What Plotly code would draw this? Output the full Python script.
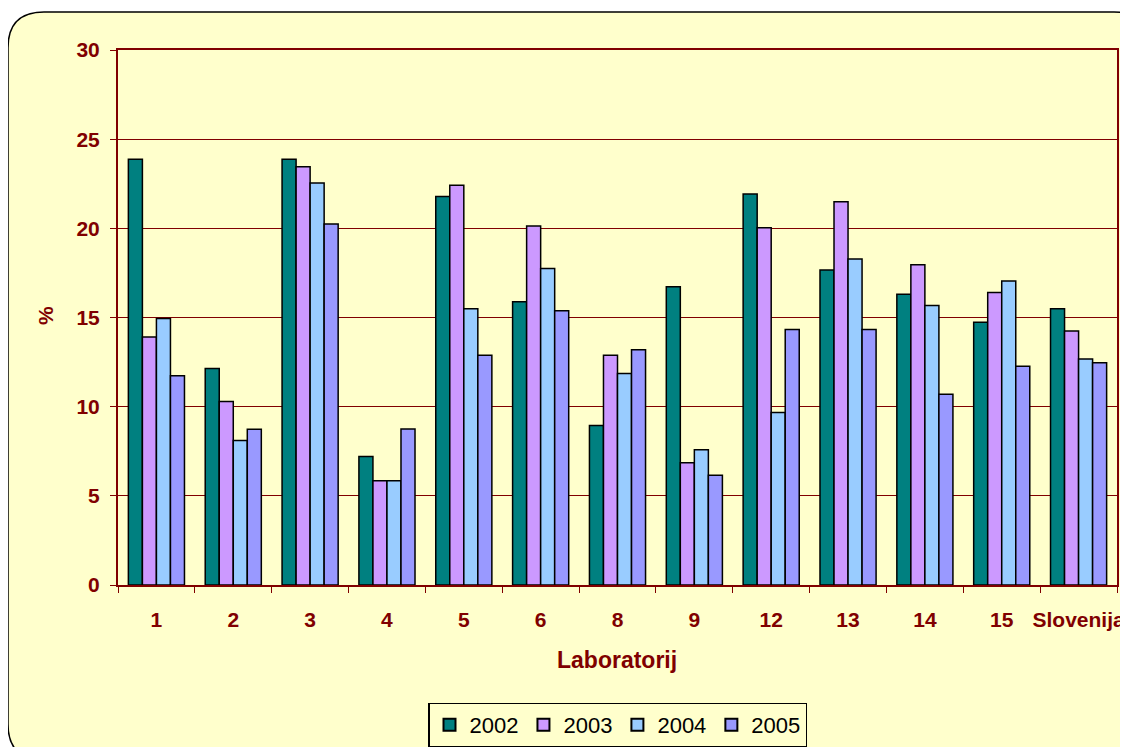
import plotly.graph_objects as go

categories = ["1", "2", "3", "4", "5", "6", "8", "9", "12", "13", "14", "15", "Slovenija"]
v2002 = [23.87, 12.14, 23.87, 7.2, 21.79, 15.88, 8.94, 16.72, 21.92, 17.66, 16.31, 14.74, 15.49]
v2003 = [13.9, 10.29, 23.46, 5.84, 22.41, 20.13, 12.89, 6.86, 20.03, 21.49, 17.96, 16.4, 14.24]
v2004 = [14.95, 8.1, 22.54, 5.84, 15.49, 17.75, 11.86, 7.59, 9.67, 18.28, 15.67, 17.04, 12.67]
v2005 = [11.73, 8.74, 20.24, 8.75, 12.89, 15.38, 13.19, 6.15, 14.33, 14.33, 10.7, 12.27, 12.46]
series_names = ["2002", "2003", "2004", "2005"]
colors = ["#008080", "#CC99FF", "#99CCFF", "#9999FF"]

OFF = 8  # page body margin
W, H = 1128, 747 - OFF
# plot area in screenshot pixels
SL, SR, ST, SB = 118, 1117, 50, 585
L, R, T, B = SL - OFF, SR - OFF, ST - OFF, SB - OFF

def px(x):
    return (x - SL) / (SR - SL)

def py(y):
    return (SB - y) / (SB - ST)

fig = go.Figure()
for name, vals, col in zip(series_names, [v2002, v2003, v2004, v2005], colors):
    fig.add_trace(go.Bar(
        x=categories, y=vals, name=name,
        marker=dict(color=col, line=dict(color="black", width=1.5)),
    ))

dark = "#800000"
fnt = "Liberation Sans, Arial, sans-serif"

# rounded chart-area background (screenshot pixel coords)
x0, y0, x1, y1, r = 8, 12, 1150, 760, 36
path = (f"M {px(x0)},{py(y0 + r)} Q {px(x0)},{py(y0)} {px(x0 + r)},{py(y0)} "
        f"L {px(x1 - r)},{py(y0)} Q {px(x1)},{py(y0)} {px(x1)},{py(y0 + r)} "
        f"L {px(x1)},{py(y1 - r)} Q {px(x1)},{py(y1)} {px(x1 - r)},{py(y1)} "
        f"L {px(x0 + r)},{py(y1)} Q {px(x0)},{py(y1)} {px(x0)},{py(y1 - r)} Z")

fig.update_layout(
    width=W, height=H,
    margin=dict(l=L, r=W - R, t=T, b=H - B, pad=0, autoexpand=False),
    paper_bgcolor="white",
    plot_bgcolor="#FFFFCC",
    barmode="group",
    bargap=0.27,
    bargroupgap=0,
    font=dict(family=fnt, color=dark),
    shapes=[dict(type="path", path=path, xref="paper", yref="paper",
                 fillcolor="#FFFFCC", line=dict(color="black", width=1.5),
                 layer="below")],
    xaxis=dict(
        type="category", automargin=False, tickangle=0,
        showline=True, linecolor=dark, linewidth=2, mirror=True,
        ticks="outside", tickson="boundaries", ticklen=6, tickcolor=dark,
        tickfont=dict(family=fnt, size=21, color=dark, weight="bold"),
        ticklabelstandoff=15,
        showgrid=False,
    ),
    yaxis=dict(
        range=[0, 30], dtick=5, automargin=False,
        showline=True, linecolor=dark, linewidth=2, mirror=True,
        ticks="outside", ticklen=6, tickcolor=dark,
        tickfont=dict(family=fnt, size=21, color=dark, weight="bold"),
        ticklabelstandoff=6,
        showgrid=True, gridcolor=dark, gridwidth=1,
        zeroline=False,
    ),
    legend=dict(
        orientation="h", x=0.5, xanchor="center", y=py(725), yanchor="middle",
        bgcolor="#FFFFCC", bordercolor="black", borderwidth=1.5,
        font=dict(family=fnt, size=22, color="black"),
        itemsizing="constant", itemwidth=30,
    ),
    annotations=[
        dict(text="<b>Laboratorij</b>", x=px(617), y=py(660), xref="paper", yref="paper",
             showarrow=False, xanchor="center", yanchor="middle",
             font=dict(family=fnt, size=23, color=dark)),
        dict(text="<b>%</b>", x=px(45), y=py(316), xref="paper", yref="paper",
             showarrow=False, xanchor="center", yanchor="middle", textangle=-90,
             font=dict(family=fnt, size=21, color=dark)),
    ],
)

fig.write_html("out.html")
